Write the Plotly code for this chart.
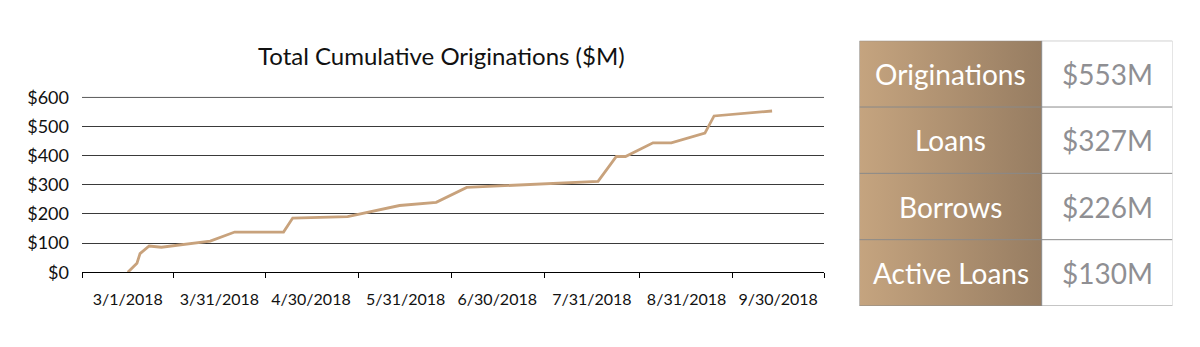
import plotly.graph_objects as go
from datetime import datetime

# ---- data ----
dates = ["2018-03-01", "2018-03-04", "2018-03-05", "2018-03-08", "2018-03-12",
         "2018-03-28", "2018-04-05", "2018-04-21", "2018-04-24", "2018-05-12",
         "2018-05-29", "2018-06-10", "2018-06-20", "2018-08-02", "2018-08-08",
         "2018-08-11", "2018-08-20", "2018-08-26", "2018-09-06", "2018-09-09",
         "2018-09-28"]
values = [0, 31, 64, 90, 86, 107, 138, 138, 186, 191, 229, 240, 291, 312,
          397, 397, 444, 444, 477, 536, 553]

tick_dates = ["2018-03-01", "2018-03-31", "2018-04-30", "2018-05-31",
              "2018-06-30", "2018-07-31", "2018-08-31", "2018-09-30"]
tick_text = ["3/1/2018", "3/31/2018", "4/30/2018", "5/31/2018",
             "6/30/2018", "7/31/2018", "8/31/2018", "9/30/2018"]
y_ticks = [0, 100, 200, 300, 400, 500, 600]
y_text = ["$0", "$100", "$200", "$300", "$400", "$500", "$600"]

stat_labels = ["Originations", "Loans", "Borrows", "Active Loans"]
stat_values = ["$553M", "$327M", "$226M", "$130M"]

title = "Total Cumulative Originations ($M)"

# ---- layout helpers ----
W, H = 1200, 347
FONT = "Lato"
GRID = "#3a3a3a"

def pdate(s):
    return datetime.strptime(s, "%Y-%m-%d")

td = [pdate(s) for s in tick_dates]
half0 = (td[1] - td[0]) / 2
halfN = (td[-1] - td[-2]) / 2
x_lo = td[0] - half0
x_hi = td[-1] + halfN
bounds = [x_lo] + [td[i] + (td[i + 1] - td[i]) / 2 for i in range(len(td) - 1)] + [x_hi]

fig = go.Figure()

fig.add_trace(go.Scatter(
    x=dates, y=values, mode="lines",
    line=dict(color="#C8A27C", width=2.8),
    hoverinfo="skip", showlegend=False,
))

# plot area in pixels
Y_MAX = 602
pl, pr, pb = 82, 824, 272.3
pt = 97.3 - (Y_MAX - 600) * (175.0 / 600)
fig.update_layout(
    width=W, height=H,
    margin=dict(l=0, r=0, t=0, b=0, autoexpand=False),
    paper_bgcolor="white", plot_bgcolor="white",
    font=dict(family=FONT, color="#111111"),
    showlegend=False,
    xaxis=dict(
        domain=[pl / W, pr / W],
        type="date",
        range=[x_lo, x_hi],
        tickmode="array", tickvals=tick_dates, ticktext=tick_text,
        ticks="", showgrid=False, zeroline=False,
        showline=True, linecolor="#000000", linewidth=1,
        tickfont=dict(size=16, family=FONT, color="#111111"),
        ticklabelstandoff=12,
        minor=dict(tickmode="array", tickvals=bounds, ticks="outside",
                   ticklen=5, tickcolor="#000000", tickwidth=1, showgrid=False),
        automargin=False,
        fixedrange=True,
    ),
    yaxis=dict(
        domain=[(H - pb) / H, (H - pt) / H],
        range=[0, Y_MAX],
        tickmode="array", tickvals=y_ticks, ticktext=y_text,
        showgrid=True, gridcolor=GRID, gridwidth=1,
        zeroline=False, showline=False, ticks="",
        tickfont=dict(size=18, family=FONT, color="#111111"),
        ticklabelstandoff=12,
        automargin=False,
        fixedrange=True,
    ),
)

# ---- stats table ----
tl, tr, tt, tb = 859.5, 1172.5, 40.7, 306
div = 1041.7
nrows = len(stat_labels)
fig.update_layout(
    xaxis2=dict(domain=[tl / W, tr / W], range=[tl, tr], visible=False,
                automargin=False, fixedrange=True),
    yaxis2=dict(domain=[(H - tb) / H, (H - tt) / H], range=[0, nrows],
                visible=False, automargin=False, fixedrange=True),
)

# gradient filled label column
fig.add_trace(go.Scatter(
    x=[tl, div, div, tl, tl], y=[0, 0, nrows, nrows, 0],
    xaxis="x2", yaxis="y2", mode="lines", line=dict(width=0),
    fill="toself",
    fillgradient=dict(type="horizontal",
                      colorscale=[[0, "#C5A47F"], [1, "#977D62"]]),
    hoverinfo="skip", showlegend=False,
))

shapes = [
    # top gridline (at the $600 tick) that plotly omits near the plot edge
    dict(type="line", xref="x domain", yref="y", x0=0, x1=1,
         y0=y_ticks[-1], y1=y_ticks[-1], line=dict(color=GRID, width=1),
         layer="below"),
]
for i in range(1, nrows):
    shapes.append(dict(type="line", xref="x2", yref="y2", x0=tl, x1=tr,
                       y0=i, y1=i, line=dict(color="#8a8a8a", width=1)))
for yy in (0, nrows):
    shapes.append(dict(type="line", xref="x2", yref="y2", x0=tl, x1=tr, y0=yy, y1=yy,
                       line=dict(color="#8a8a8a", width=1)))
for xx in (tl, div):
    shapes.append(dict(type="line", xref="x2", yref="y2", x0=xx, x1=xx, y0=0, y1=nrows,
                       line=dict(color="#8a8a8a", width=1)))
shapes.append(dict(type="line", xref="x2", yref="y2", x0=tr, x1=tr, y0=0, y1=nrows,
                   line=dict(color="#cccccc", width=1)))
fig.update_layout(shapes=shapes)

annotations = [dict(
    text=title, xref="paper", yref="paper", x=441 / W, y=1 - 56 / H,
    xanchor="center", yanchor="middle", showarrow=False,
    font=dict(size=24, family=FONT, color="#111111"),
)]
for i, (lab, val) in enumerate(zip(stat_labels, stat_values)):
    yc = nrows - i - 0.5
    annotations.append(dict(
        text=lab, xref="x2", yref="y2", x=(tl + div) / 2, y=yc,
        xanchor="center", yanchor="middle", showarrow=False,
        font=dict(size=28, family=FONT, color="#ffffff"),
    ))
    annotations.append(dict(
        text=val, xref="x2", yref="y2", x=(div + tr) / 2, y=yc,
        xanchor="center", yanchor="middle", showarrow=False,
        font=dict(size=28, family=FONT, color="#8f8f93"),
    ))
fig.update_layout(annotations=annotations)

fig.write_html("out.html")
